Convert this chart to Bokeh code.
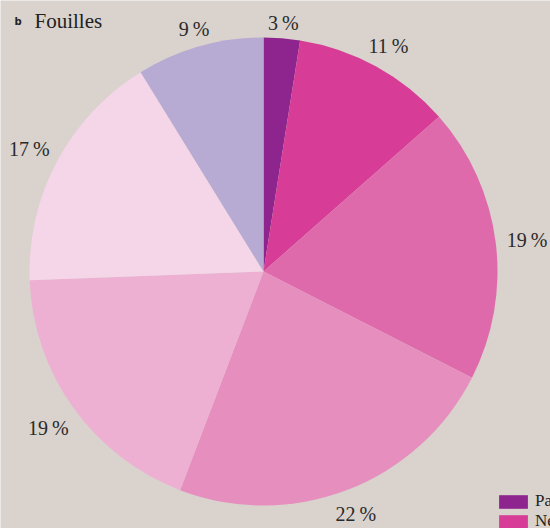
import numpy as np
from bokeh.plotting import figure
from bokeh.models import ColumnDataSource, Legend, LegendItem
from bokeh.core.properties import value
from bokeh.embed import file_html
from bokeh.resources import INLINE

categories = ["Paléolithique", "Néolithique", "Âge du Bronze", "Âge du Fer",
              "Antiquité", "Moyen Âge", "Époque moderne"]
shares = [2.5, 11.0, 19.0, 23.3, 18.6, 16.8, 8.8]
labels = ["3\u2009%", "11\u2009%", "19\u2009%", "22\u2009%", "19\u2009%", "17\u2009%", "9\u2009%"]
colors = ["#8e258e", "#d73d96", "#df6aab", "#e68fbe", "#edb0d2", "#f5d5e8", "#b8abd3"]

W, H = 550, 528
BG = "#d9d2cd"
cx, cy, R = 263, H - 271, 234
GAP = 244

vals = np.array(shares, dtype=float)
frac = vals / vals.sum()
cum = np.concatenate([[0], np.cumsum(frac)])
start = np.pi / 2 - cum[:-1] * 2 * np.pi
end = np.pi / 2 - cum[1:] * 2 * np.pi
mid = (start + end) / 2

src = ColumnDataSource(dict(cat=categories, start=start, end=end, color=colors,
                            x=[cx] * len(vals), y=[cy] * len(vals)))

p = figure(width=W, height=H, x_range=(0, W), y_range=(0, H),
           output_backend="svg", toolbar_location=None, min_border=0,
           background_fill_color=BG, border_fill_color=BG, outline_line_color=None)
p.axis.visible = False
p.grid.visible = False

r = p.wedge(x="x", y="y", radius=R, start_angle="start", end_angle="end",
            direction="clock", fill_color="color", line_color=None, source=src)

# label placement: text box kept at a fixed gap outside the pie
ux, uy = np.cos(mid), np.sin(mid)
hw = np.array([len(t) * 5.3 for t in labels])
hh = 6.0
dist = GAP + hw * np.abs(ux) + hh * np.abs(uy)
lsrc = ColumnDataSource(dict(x=cx + dist * ux, y=cy + dist * uy - 2, t=labels))
p.text(x="x", y="y", text="t", source=lsrc, text_align="center", text_baseline="middle",
       text_font=value("Liberation Serif"), text_font_size="20px", text_color="#2a2a2a")

p.text(x=[14], y=[H - 21], text=["b"], text_font=value("DejaVu Sans"), text_font_style="bold",
       text_font_size="10px", text_baseline="middle", text_color="#222222")
p.text(x=[34], y=[H - 20], text=["Fouilles"], text_font=value("Liberation Serif"),
       text_font_size="21px", text_baseline="middle", text_color="#222222")

items = [LegendItem(label=c, renderers=[r], index=i) for i, c in enumerate(categories)]
legend = Legend(items=items, location=(495, -103), glyph_width=36, glyph_height=17,
                label_height=17, spacing=0, padding=0, margin=0,
                background_fill_alpha=0, border_line_color=None,
                label_text_font="Liberation Serif", label_text_font_size="17px",
                label_text_color="#222222", label_standoff=4)
p.add_layout(legend)

open("out.html", "w").write(file_html(p, INLINE))
